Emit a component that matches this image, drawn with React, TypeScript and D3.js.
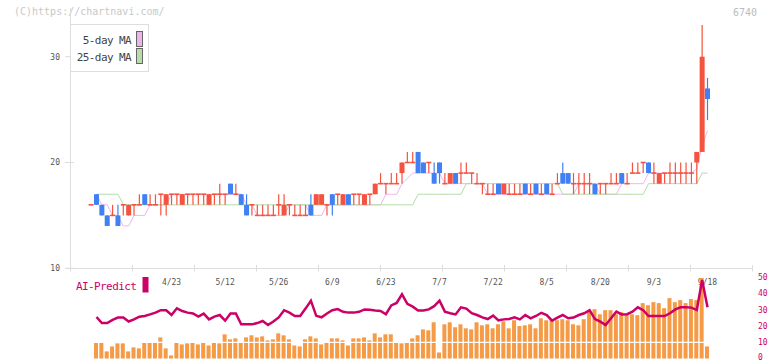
import * as d3 from "d3";

// daily candles, first entry is the day before the volume/AI series starts
const opens = [
  16, 17, 16, 15, 15, 15, 16, 15, 16, 16, 17, 16,
  16, 17, 16, 17, 17, 16, 17, 17, 17, 17,
  16, 17, 17, 17, 18, 17, 17, 16, 16, 15,
  15, 15, 15, 16, 15, 16, 15, 15, 15, 16,
  16, 16, 16, 17, 17, 16, 17, 17, 17, 16,
  17, 17, 18, 18, 18, 18, 19, 20, 20, 21,
  20, 20, 19, 20, 18, 18, 19, 19, 19, 19,
  18, 18, 17, 17, 18, 17, 17, 17, 17, 18,
  17, 18, 17, 18, 17, 18, 19, 19, 18, 18,
  18, 18, 18, 18, 18, 18, 18, 19, 18, 19,
  19, 20, 20, 19, 18, 19, 19, 19, 19, 19,
  19, 20, 21, 27,
];
const highs = [
  16, 17, 16, 15, 16, 16, 16, 16, 16, 17, 17, 17,
  17, 17, 17, 17, 17, 17, 17, 17, 17, 17,
  17, 17, 18, 17, 18, 18, 17, 17, 16, 16,
  16, 16, 16, 17, 17, 16, 16, 16, 16, 17,
  17, 17, 16, 17, 17, 17, 17, 17, 17, 17,
  17, 18, 19, 18, 19, 19, 20, 21, 21, 21,
  20, 20, 20, 20, 19, 19, 19, 20, 20, 19,
  19, 18, 18, 18, 18, 18, 18, 18, 18, 18,
  18, 18, 18, 18, 18, 19, 20, 19, 19, 19,
  19, 19, 18, 18, 18, 19, 19, 19, 19, 20,
  20, 20, 20, 20, 19, 19, 20, 20, 20, 20,
  20, 21, 33, 28,
];
const lows = [
  16, 16, 15, 14, 15, 14, 15, 15, 15, 16, 16, 16,
  16, 15, 15, 16, 16, 16, 16, 16, 16, 16,
  16, 16, 16, 16, 17, 17, 16, 15, 15, 15,
  15, 15, 15, 15, 15, 15, 15, 15, 15, 15,
  16, 16, 15, 15, 16, 16, 16, 16, 16, 16,
  16, 17, 18, 17, 18, 18, 18, 20, 20, 19,
  19, 19, 18, 18, 18, 18, 18, 18, 19, 18,
  18, 17, 17, 17, 17, 17, 17, 17, 17, 17,
  17, 17, 17, 17, 17, 18, 18, 18, 17, 17,
  17, 17, 17, 17, 17, 18, 18, 18, 18, 19,
  19, 19, 19, 18, 18, 18, 18, 18, 18, 18,
  18, 18, 21, 24,
];
const closes = [
  16, 16, 15, 14, 15, 14, 16, 16, 16, 16, 16, 16,
  16, 17, 17, 17, 17, 17, 17, 17, 17, 17,
  17, 17, 17, 17, 17, 17, 16, 15, 16, 15,
  15, 15, 15, 16, 16, 16, 15, 15, 15, 15,
  17, 17, 16, 16, 17, 17, 16, 17, 17, 17,
  17, 18, 18, 18, 18, 18, 20, 20, 20, 19,
  19, 20, 18, 19, 18, 19, 18, 19, 19, 19,
  18, 18, 17, 17, 17, 18, 17, 17, 17, 17,
  17, 17, 17, 17, 17, 18, 18, 18, 18, 18,
  18, 18, 17, 18, 18, 18, 18, 18, 18, 19,
  19, 20, 19, 19, 19, 19, 19, 19, 19, 19,
  19, 21, 30, 26,
];

const ma5 = [
  17, 16, 16, 15, 15, 14, 14, 15, 15, 15, 16,
  16, 16, 16,
  17, 17, 17, 17, 17, 17, 17, 17, 17, 17, 17, 17, 17, 17,
  16, 16,
  15, 15, 15, 15, 15, 15,
  16, 16, 16, 16,
  15, 15, 15,
  16, 16, 16, 16, 16, 16, 16, 16, 16, 16, 16,
  17, 17, 17,
  18, 18.5,
  19, 19, 19, 19, 19, 19,
  18, 18, 18, 18, 18, 18, 18, 18,
  17, 17, 17, 17, 17, 17, 17, 17, 17, 17, 17, 17, 17, 17, 17, 17, 17,
  18, 18, 18, 18,
  17, 17, 17, 17,
  18, 18, 18, 18, 18,
  19, 19, 19, 19, 19, 19, 19, 19, 19,
  19.4, 21.6, 23,
];
const ma25 = [
  17, 17, 17, 17, 17,
  16, 16, 16, 16, 16, 16, 16, 16, 16, 16, 16, 16, 16, 16, 16, 16, 16, 16, 16, 16,
  16, 16, 16, 16, 16, 16, 16, 16, 16, 16, 16, 16, 16, 16, 16, 16, 16, 16, 16, 16,
  16, 16, 16, 16, 16, 16, 16, 16, 16, 16, 16, 16, 16, 16, 16,
  17, 17, 17, 17, 17, 17, 17, 17, 17,
  18, 18, 18, 18, 18, 18, 18, 18, 18, 18, 18, 18, 18, 18, 18, 18, 18, 18,
  17, 17, 17, 17, 17, 17, 17, 17, 17, 17, 17, 17, 17, 17, 17, 17,
  18, 18, 18, 18, 18, 18, 18, 18, 18, 18,
  19, 19,
];

const volume = [
  10.2, 10.2, 4.4, 7.5, 9.4, 9.4, 4.4, 6.9, 6.3, 10,
  10, 10, 13.1, 6.3, 1.9, 10, 8.75, 9.4, 10, 8.75,
  10, 8.1, 10, 9.4, 15, 11.9, 12.5, 10, 13.1, 14.4,
  13.1, 13.75, 11.25, 11.9, 15.6, 14.4, 11.9, 8.1, 7.5, 11.9,
  13.75, 12.5, 8.75, 10, 12.5, 12.5, 11.25, 8.1, 12.5, 12.5,
  13.1, 11.25, 15.6, 13.1, 15, 15, 10, 9.4, 10, 12.5,
  14.4, 18.1, 17.5, 22.5, 3.75, 21.25, 22.5, 19.4, 21.25, 18.75,
  18.1, 22.5, 20.6, 21.25, 18.75, 21.25, 23.1, 18.75, 23.75, 20.2,
  20.6, 21.25, 18.75, 25, 23.75, 24.4, 23.75, 24.4, 23.75, 21.25,
  20.6, 24.4, 30, 30.6, 27.5, 30, 30, 27.5, 28.75, 27.5,
  27.5, 26.9, 34.4, 33.1, 35, 34.4, 31.25, 37.5, 35, 36.25,
  34.4, 36.9, 36.25, 50, 7.5,
];
const aiPredict = [
  25.8, 22, 22, 24, 25.4, 25.4, 23, 24.3, 26, 26.4,
  27.4, 28.5, 30, 30, 27, 31.2, 29.5, 28.5, 28, 26,
  27.9, 24.3, 26, 27, 23.5, 28, 28, 21.2, 21.2, 21.2,
  22, 23.3, 20.8, 23, 25.5, 30, 28.5, 26.4, 26.4, 31,
  35.9, 26.5, 25.6, 28, 30, 30.7, 29, 28.5, 28.5, 29,
  30.5, 30.3, 29.8, 29.5, 27.5, 33, 34.5, 39.9, 34, 32.2,
  29.8, 29.8, 30.5, 32.5, 35.9, 29.1, 28.1, 27.4, 31.8, 31,
  28.1, 27, 25.5, 24.5, 26.6, 23.7, 24.3, 24.6, 25.6, 24.3,
  27, 24.9, 26.4, 28.4, 27, 23.5, 25.4, 27, 25, 25.4,
  27, 28.1, 30, 24.5, 22.9, 20.8, 25, 29.1, 27.4, 27.5,
  29.1, 31.8, 30, 26.4, 26.4, 26.4, 26.4, 28.1, 30.5, 31.8,
  31.8, 31.6, 30.1, 48.7, 31.8,
];

const dateLabels = ["4/23", "5/12", "5/26", "6/9", "6/23", "7/7", "7/22", "8/5", "8/20", "9/3", "9/18"];
const dateLabelDays = [14, 24, 34, 44, 54, 64, 74, 84, 94, 104, 114];
const priceTicks = [10, 20, 30];
const aiTicks = [0, 10, 20, 30, 40, 50];

const RED = "#f4533f";
const BLUE = "#4080f2";
const AI = "#cc0066";
const mono = "'DejaVu Sans Mono', monospace";

export default function App() {
  const x = d3.scaleLinear().domain([0, 114]).range([96.5, 707.5]);
  const y = d3.scaleLinear().domain([10, 30]).range([268.3, 56.7]);
  const yv = d3.scaleLinear().domain([0, 50]).range([358.5, 278]);
  const grid = d3.scaleLinear().domain([0, 11]).range([70.5, 752.5]);

  const maLine = d3.line<number>().x((_, i) => x(i)).y((d) => y(d));
  const aiLine = d3.line<number>().x((_, i) => x(i)).y((d) => yv(d));

  return (
    <svg width={772} height={361} style={{ position: "absolute", left: 0, top: 0, background: "#fff" }} fontFamily={mono}>
      <text x={14} y={15} fontSize={10} fill="#c8c8c8">(C)https://chartnavi.com/</text>
      <text x={757} y={15.5} fontSize={10} fill="#bbb" textAnchor="end">6740</text>

      {/* axes */}
      <line x1={70.5} x2={70.5} y1={8} y2={268.5} stroke="#ddd" />
      <line x1={66} x2={752.5} y1={268.5} y2={268.5} stroke="#ddd" />
      {d3.range(12).map((k) => (
        <line key={k} x1={grid(k)} x2={grid(k)} y1={265} y2={271.5} stroke="#ddd" />
      ))}
      {priceTicks.map((t) => (
        <g key={t}>
          <line x1={65} x2={74} y1={y(t)} y2={y(t)} stroke="#ddd" />
          <text x={60} y={y(t)} dy="0.35em" fontSize={8} fill="#555" textAnchor="end">{t}</text>
        </g>
      ))}
      {dateLabels.map((d, i) => (
        <text key={d} x={x(dateLabelDays[i])} y={285} fontSize={8} fill="#555" textAnchor="middle">{d}</text>
      ))}

      {/* moving averages */}
      <path d={maLine(ma5) ?? ""} fill="none" stroke="#f0b4f0" strokeWidth={1} />
      <path d={maLine(ma25) ?? ""} fill="none" stroke="#b4dca4" strokeWidth={1} />

      {/* candles */}
      {opens.map((o, k) => {
        const day = k - 1;
        const c = closes[k];
        const cx = x(day);
        const col = c >= o ? RED : BLUE;
        const top = y(Math.max(o, c));
        const bot = y(Math.min(o, c));
        return (
          <g key={k}>
            <line x1={cx} x2={cx} y1={y(highs[k])} y2={y(lows[k])} stroke={col} strokeWidth={1.2} />
            {o === c ? (
              <rect x={cx - 2.5} y={top - 0.8} width={5} height={1.6} fill={col} />
            ) : (
              <rect x={cx - 2.5} y={top} width={5} height={bot - top} fill={col} />
            )}
          </g>
        );
      })}

      {/* legend */}
      <rect x={70.5} y={24.5} width={78} height={47} fill="#fff" stroke="#ddd" />
      <text x={131} y={44} fontSize={11} letterSpacing={-0.6} fill="#444" textAnchor="end">5-day MA</text>
      <text x={131} y={61} fontSize={11} letterSpacing={-0.6} fill="#444" textAnchor="end">25-day MA</text>
      <rect x={136.5} y={31.5} width={6} height={15} fill="#ebb5eb" stroke="#666" />
      <rect x={136.5} y={48.5} width={6} height={15} fill="#b8dca8" stroke="#666" />

      {/* lower panel */}
      <text x={76} y={290} fontSize={11} letterSpacing={-0.6} fill={AI}>AI-Predict</text>
      <rect x={142.5} y={277} width={6} height={15.5} fill={AI} />
      {volume.map((v, i) => (
        <rect key={i} x={x(i) - 2.5} y={yv(v)} width={4} height={yv(0) - yv(v)} fill="#f59a45" />
      ))}
      <line x1={x(0) - 3} x2={x(114) + 2} y1={yv(10)} y2={yv(10)} stroke="#fff" strokeWidth={1.2} />
      <path d={aiLine(aiPredict) ?? ""} fill="none" stroke={AI} strokeWidth={2.5} />
      {aiTicks.map((t) => (
        <text key={t} x={758} y={Math.min(yv(t) + 2.3, 359.5)} fontSize={8} fill={AI}>{t}</text>
      ))}
    </svg>
  );
}
